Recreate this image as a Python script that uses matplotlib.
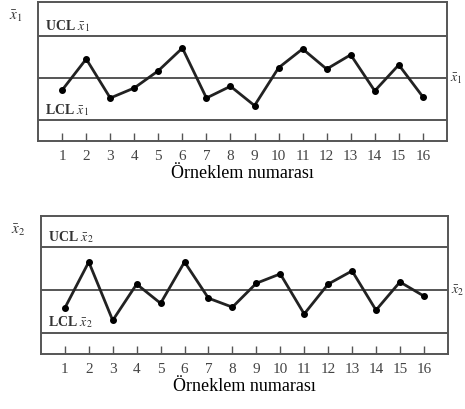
import matplotlib
matplotlib.use("Agg")
import matplotlib.pyplot as plt

plt.rcParams["font.family"] = ["Liberation Serif", "DejaVu Serif"]
plt.rcParams["mathtext.fontset"] = "stix"

samples = list(range(1, 17))
# values in units of control-limit distance (center = 0, UCL = +1, LCL = -1)
xbar1 = [-0.29, 0.45, -0.48, -0.24, 0.17, 0.71, -0.48, -0.20,
         -0.66, 0.24, 0.69, 0.21, 0.55, -0.31, 0.31, -0.45]
xbar2 = [-0.42, 0.66, -0.71, 0.14, -0.31, 0.66, -0.19, -0.40,
         0.16, 0.38, -0.56, 0.14, 0.45, -0.47, 0.19, -0.14]
ucl, center, lcl = 1.0, 0.0, -1.0
xlabel = "Örneklem numarası"

fig = plt.figure(figsize=(4.65, 4.10), dpi=100)
ax1 = fig.add_axes([0.082, 0.654, 0.879, 0.339])
ax2 = fig.add_axes([0.088, 0.134, 0.875, 0.337])

line_col = "#555555"
panels = [(ax1, xbar1, "1", (-1.5, 1.81)), (ax2, xbar2, "2", (-1.5, 1.74))]
for ax, vals, idx, ylim in panels:
    for yv in (ucl, center, lcl):
        ax.axhline(yv, color=line_col, lw=1.4, zorder=1)
    ax.plot(samples, vals, color="#222222", lw=2.0, marker="o",
            markersize=4, markerfacecolor="black", markeredgecolor="black",
            zorder=3)
    ax.set_xlim(0, 17)
    ax.set_ylim(*ylim)
    ax.set_xticks(samples)
    ax.set_xticklabels([str(s) for s in samples], fontsize=11,
                       color="#444444")
    ax.tick_params(axis="x", direction="in", length=6, width=1,
                   color=line_col, pad=6)
    ax.set_yticks([])
    for sp in ax.spines.values():
        sp.set_color(line_col)
        sp.set_linewidth(1.4)
    sym = r"$\bar{x}_" + idx + "$"
    ax.text(0.3, ucl + 0.08, "UCL " + sym, fontsize=10, color="#333333",
            fontweight="bold", va="bottom")
    ax.text(0.3, lcl + 0.08, "LCL " + sym, fontsize=10, color="#333333",
            fontweight="bold", va="bottom")
    ax.text(-0.055, 0.96, sym, transform=ax.transAxes, fontsize=11,
            color="#333333", ha="center", va="top")
    ax.text(17.15, center, sym, fontsize=10, color="#333333",
            ha="left", va="center", clip_on=False)
    ax.set_xlabel(xlabel, fontsize=13, labelpad=1)

fig.savefig("out.png", dpi=100)
